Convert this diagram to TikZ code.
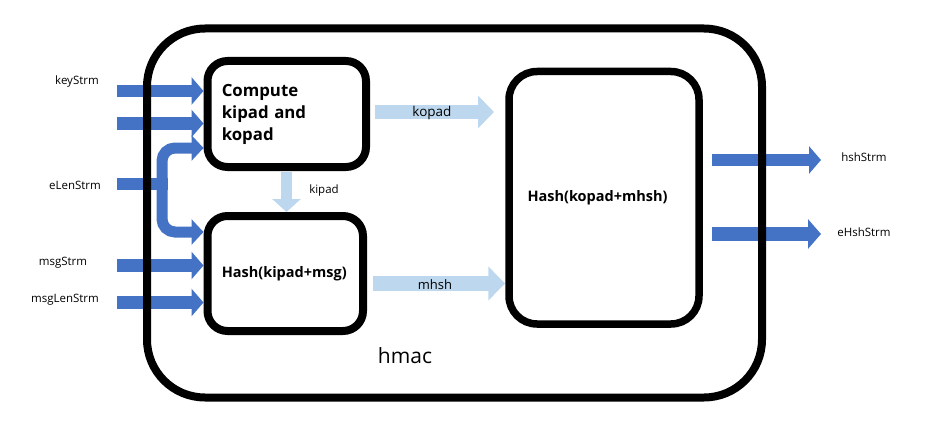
\documentclass[tikz,border=0pt]{standalone}
\usepackage{fontspec}
\setmainfont{Open Sans}
\usetikzlibrary{arrows.meta,backgrounds}
\definecolor{dblue}{HTML}{4472C4}
\definecolor{lblue}{HTML}{BDD7EE}
\begin{document}
\begin{tikzpicture}[x=1pt,y=-1pt,
  box/.style={draw=black, rounded corners=20pt, line width=8pt, inner sep=0pt,
    font=\bfseries\fontsize{14.5}{17}\selectfont},
  darrow/.style={draw=dblue, line width=12pt, -{Triangle[length=12pt,width=27pt]}},
  larrow/.style={draw=lblue, line width=15pt, -{Triangle[length=17pt,width=33pt]}},
  lab/.style={font=\fontsize{11.5}{13}\selectfont, inner sep=0pt}]
\useasboundingbox (0,0) rectangle (930,428);

% boxes
\node[box, rounded corners=58pt, minimum width=615pt, minimum height=369pt] (outer) at (454.5,213) {};
\node[box, minimum width=158.5pt, minimum height=106pt, text width=130pt, align=left,
  font=\bfseries\fontsize{16.8}{22}\selectfont] (comp) at (286.75,114) {Compute\\kipad and\\kopad};
\node[box, minimum width=155.5pt, minimum height=115pt] (hk) at (285.25,273.5) {Hash(kipad+msg)\hspace*{2pt}};
\node[box, rounded corners=28pt, line width=7.5pt, minimum width=190pt, minimum height=252.5pt] (ho) at (604,197.75) {Hash(kopad+mhsh)\hspace*{13pt}};

% coordinates
\coordinate (keyS) at (117,91);
\coordinate (key2) at (117,123.5);
\coordinate (eS) at (117,184);
\coordinate (eJ) at (162,184);
\path (comp.west) ++(0,34) coordinate (eT);
\path (hk.west) ++(0,-41.5) coordinate (eB);
\coordinate (msgS) at (117,265.5);
\coordinate (msgL) at (117,302.5);
\coordinate (kiS) at (286.5,172);
\coordinate (koS) at (375,112);
\coordinate (koT) at (494,112);
\coordinate (mhS) at (373,283.5);
\coordinate (hsS) at (712,160);
\coordinate (hsT) at (821,160);
\coordinate (ehS) at (712,234);
\coordinate (ehT) at (821,234);

\begin{scope}[on background layer]
\draw[darrow] (keyS) -- (keyS -| comp.west);
\draw[darrow] (key2) -- (key2 -| comp.west);
\draw[dblue, line width=12pt] (eS) -- ([xshift=6pt]eJ);
\draw[darrow, line width=11pt, rounded corners=13pt, -{Triangle[length=12pt,width=25pt]}] (eJ) |- (eT);
\draw[darrow, line width=11pt, rounded corners=13pt, -{Triangle[length=12pt,width=25pt]}] (eJ) |- (eB);
\draw[darrow, line width=13pt] (msgS) -- (msgS -| hk.west);
\draw[darrow, line width=13pt] (msgL) -- (msgL -| hk.west);
\draw[larrow, line width=11pt, -{Triangle[length=13pt,width=28pt]}] (kiS) -- (kiS |- hk.north);
\draw[larrow, line width=14pt, -{Triangle[length=16pt,width=32pt]}] (koS) -- (koT);
\draw[larrow] (mhS) -- (mhS -| ho.west);
\draw[darrow] (hsS) -- (hsT);
\draw[darrow, line width=14pt, -{Triangle[length=13pt,width=29pt]}] (ehS) -- (ehT);
\end{scope}

% labels
\node[lab] (lkey) at (77,82) {keyStrm};
\node[lab] (lelen) at (75,185) {eLenStrm};
\node[lab] (lmsg) at (63,263) {msgStrm};
\node[lab] (lmsgl) at (65,300) {msgLenStrm};
\node[lab] (lki) at (324,191) {kipad};
\node[lab, font=\fontsize{13.5}{15}\selectfont] (lko) at (432,113) {kopad};
\node[lab, font=\fontsize{13}{15}\selectfont] (lmh) at (435,285) {mhsh};
\node[lab, font=\fontsize{21}{24}\selectfont] (lhmac) at (405,356) {hmac};
\node[lab] (lhs) at (864,157) {hshStrm};
\node[lab] (leh) at (864,232) {eHshStrm};
\end{tikzpicture}
\end{document}
